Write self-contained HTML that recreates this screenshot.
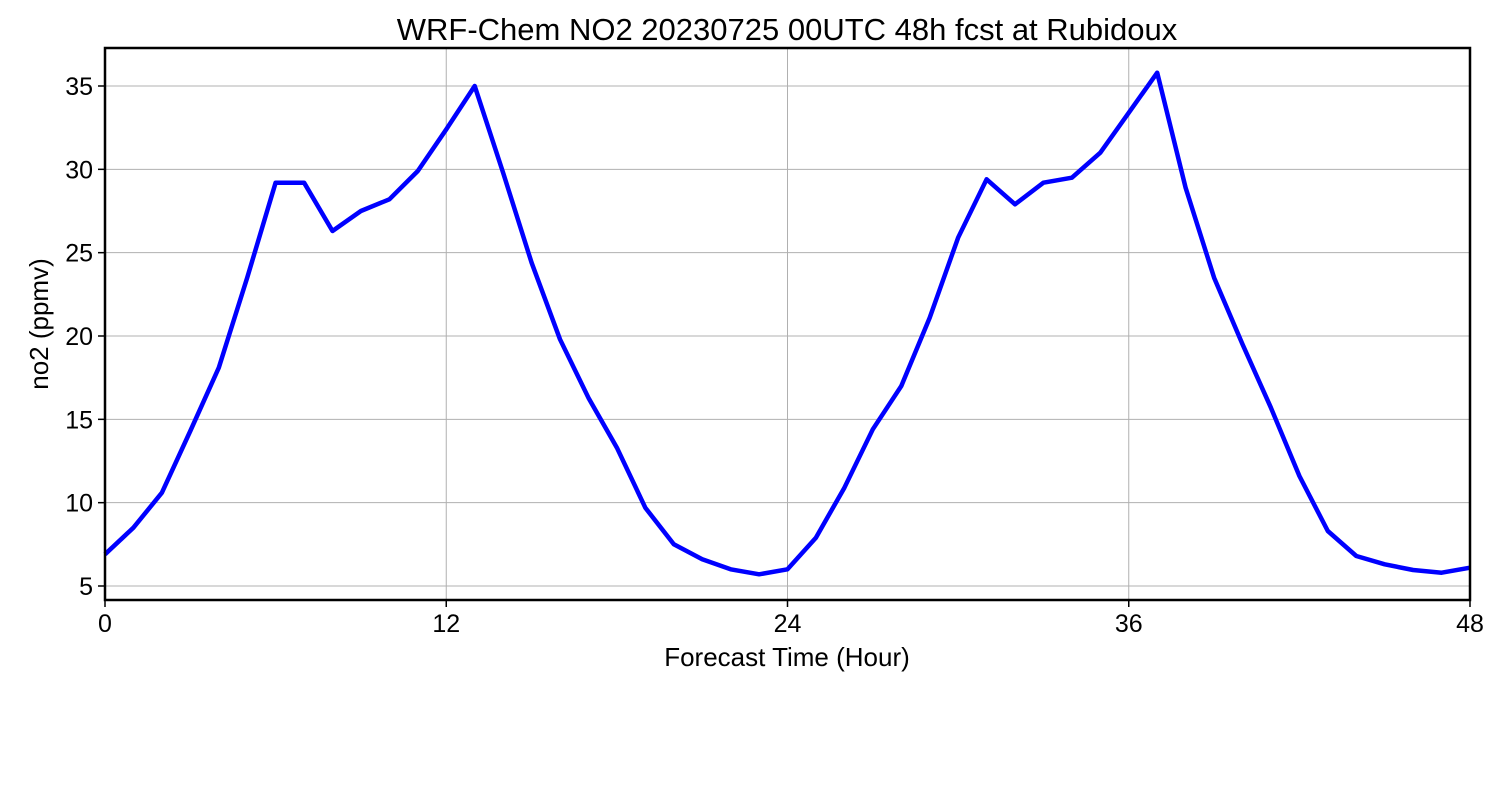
<!DOCTYPE html>
<html><head><meta charset="utf-8"><style>
html,body{margin:0;padding:0;background:#fff;}
svg{display:block;font-family:"Liberation Sans","DejaVu Sans",sans-serif;}
</style></head><body>
<svg id="chart" width="1500" height="800">
<text x="787" y="40" text-anchor="middle" font-size="31" fill="#000">WRF-Chem NO2  20230725 00UTC 48h fcst at Rubidoux</text>
<g id="grid"></g>
<g id="series"></g>
<rect x="105" y="48" width="1365" height="552" fill="none" stroke="#000" stroke-width="2.5"/>
<g id="ticks"></g>
<text x="787" y="666" text-anchor="middle" font-size="26">Forecast Time (Hour)</text>
<text transform="translate(48,324) rotate(-90)" text-anchor="middle" font-size="26">no2  (ppmv)</text>
</svg>
<script>
const hours = Array.from({length:49},(_,i)=>i);
const no2 = [6.9,8.5,10.6,14.3,18.1,23.5,29.2,29.2,26.3,27.5,28.2,29.9,32.4,35.0,29.8,24.4,19.8,16.3,13.3,9.7,7.5,6.6,6.0,5.7,6.0,7.9,10.9,14.4,17.0,21.1,25.9,29.4,27.9,29.2,29.5,31.0,33.4,35.8,28.9,23.5,19.5,15.7,11.6,8.3,6.8,6.3,5.96,5.8,6.1];
const xTicks = [0,12,24,36,48];
const yTicks = [5,10,15,20,25,30,35];
const NS="http://www.w3.org/2000/svg";
const X0=105,X1=1470,XMIN=0,XMAX=48;
function xs(v){return X0+(v-XMIN)/(XMAX-XMIN)*(X1-X0);}
function ys(v){return 586-(v-5)*(500/30);}
const grid=document.getElementById('grid'),ticks=document.getElementById('ticks'),series=document.getElementById('series');
function mk(tag,attrs,parent){const e=document.createElementNS(NS,tag);for(const k in attrs)e.setAttribute(k,attrs[k]);parent.appendChild(e);return e;}
xTicks.forEach(t=>{
  const g=mk('line',{x1:xs(t),x2:xs(t),y1:48,y2:600,stroke:'#b0b0b0','stroke-width':1},grid);
  
  
  const tk=mk('line',{x1:xs(t),x2:xs(t),y1:600,y2:607,stroke:'#000','stroke-width':1.5},ticks);
  
  
  const tx=mk('text',{x:xs(t),y:632,'text-anchor':'middle','font-size':25},ticks);
  tx.textContent=t;
  
  
});
yTicks.forEach(t=>{
  const g=mk('line',{x1:105,x2:1470,y1:ys(t),y2:ys(t),stroke:'#b0b0b0','stroke-width':1},grid);
  
  
  const tk=mk('line',{x1:98,x2:105,y1:ys(t),y2:ys(t),stroke:'#000','stroke-width':1.5},ticks);
  
  
  const tx=mk('text',{x:93,y:ys(t)+9,'text-anchor':'end','font-size':25},ticks);
  tx.textContent=t;
  
  
});
const pts=hours.map((h,i)=>xs(h).toFixed(1)+','+ys(no2[i]).toFixed(1)).join(' ');
const line=mk('polyline',{points:pts,fill:'none',stroke:'#0000ff','stroke-width':4.5,'stroke-linejoin':'round'},series);


</script>
</body></html>
